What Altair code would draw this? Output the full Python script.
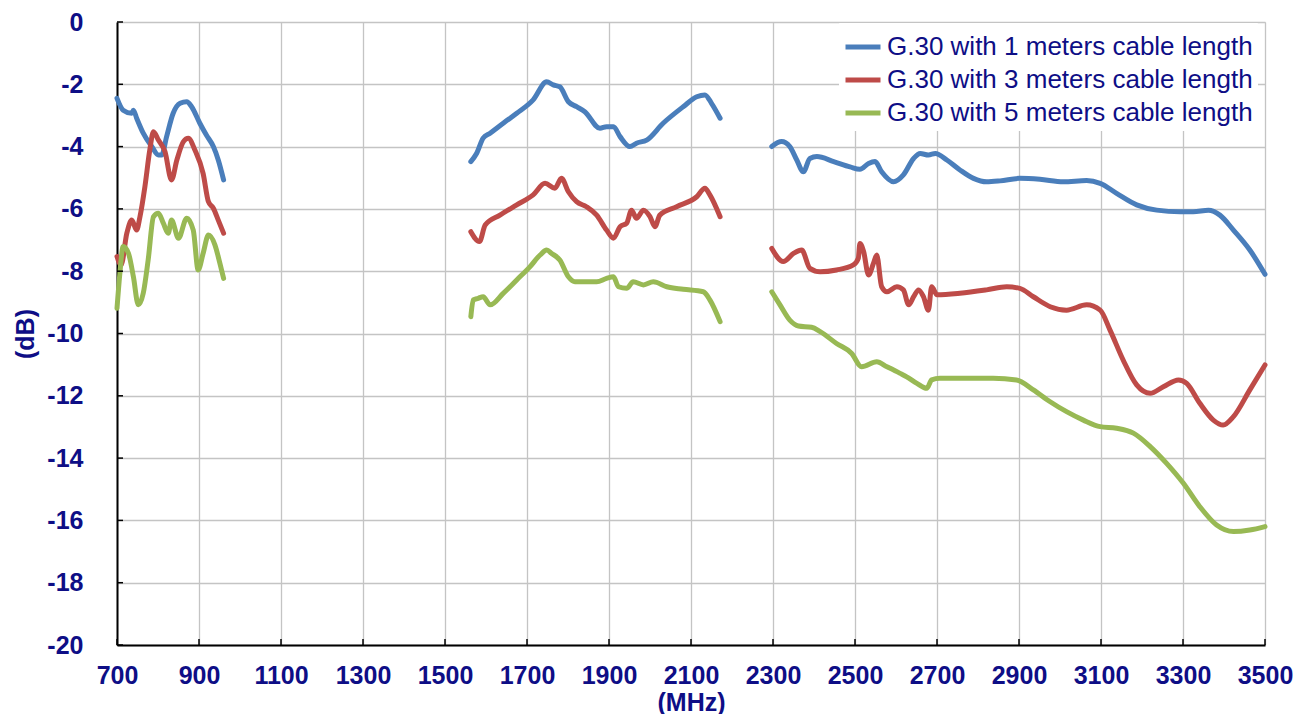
import altair as alt
import pandas as pd

# ---- data (MHz, dB) ----
series_names = [
    "G.30 with 1 meters cable length",
    "G.30 with 3 meters cable length",
    "G.30 with 5 meters cable length",
]
series_colors = ["#4A7EBB", "#BE4B48", "#98B954"]

# 1 m cable
blue_b1_f = [700, 715, 736, 740, 748, 764, 785, 801, 809, 821, 837, 854, 870, 882, 902, 918, 935, 947, 960]
blue_b1_d = [-2.45, -2.83, -2.93, -2.83, -3.09, -3.57, -4.0, -4.27, -4.27, -3.68, -2.93, -2.61, -2.56, -2.72, -3.25, -3.63, -4.0, -4.43, -5.07]
blue_b2_f = [1563, 1577, 1593, 1610, 1642, 1675, 1715, 1748, 1764, 1780, 1801, 1821, 1841, 1878, 1894, 1911, 1927, 1951, 1967, 1992, 2032, 2081, 2114, 2134, 2150, 2171]
blue_b2_d = [-4.48, -4.22, -3.73, -3.57, -3.25, -2.93, -2.50, -1.92, -2.02, -2.08, -2.56, -2.72, -2.88, -3.41, -3.36, -3.36, -3.68, -4.0, -3.89, -3.79, -3.25, -2.72, -2.40, -2.34, -2.61, -3.09]
blue_b3_f = [2297, 2321, 2341, 2358, 2374, 2390, 2407, 2448, 2488, 2512, 2533, 2549, 2565, 2594, 2618, 2643, 2659, 2679, 2696, 2724, 2756, 2789, 2821, 2854, 2902, 2951, 3008, 3065, 3098, 3138, 3187, 3236, 3293, 3325, 3362, 3390, 3423, 3463, 3500]
blue_b3_d = [-4.0, -3.84, -4.0, -4.43, -4.81, -4.38, -4.32, -4.48, -4.65, -4.73, -4.54, -4.48, -4.81, -5.13, -4.91, -4.38, -4.22, -4.27, -4.22, -4.43, -4.75, -5.02, -5.13, -5.10, -5.02, -5.05, -5.13, -5.09, -5.18, -5.50, -5.87, -6.04, -6.09, -6.09, -6.04, -6.20, -6.68, -7.32, -8.10]

# 3 m cable
red_b1_f = [700, 710, 724, 736, 748, 756, 768, 780, 789, 801, 817, 833, 846, 862, 874, 890, 910, 923, 935, 947, 960]
red_b1_d = [-7.53, -7.8, -6.78, -6.36, -6.68, -6.25, -5.29, -4.11, -3.52, -3.79, -4.16, -5.07, -4.43, -3.84, -3.73, -4.11, -4.86, -5.77, -5.98, -6.36, -6.78]
red_b2_f = [1563, 1584, 1598, 1634, 1675, 1715, 1744, 1768, 1784, 1801, 1821, 1845, 1870, 1894, 1911, 1927, 1943, 1955, 1967, 1984, 2000, 2012, 2024, 2065, 2114, 2134, 2146, 2171]
red_b2_d = [-6.73, -7.05, -6.52, -6.20, -5.87, -5.55, -5.18, -5.34, -5.02, -5.45, -5.77, -5.93, -6.20, -6.68, -6.94, -6.57, -6.46, -6.04, -6.30, -6.04, -6.25, -6.57, -6.20, -5.93, -5.61, -5.34, -5.55, -6.25]
red_b3_f = [2297, 2325, 2350, 2370, 2390, 2415, 2455, 2496, 2508, 2512, 2521, 2533, 2545, 2553, 2565, 2578, 2602, 2618, 2631, 2643, 2655, 2667, 2679, 2687, 2700, 2756, 2821, 2870, 2902, 2935, 2976, 3016, 3065, 3098, 3122, 3154, 3187, 3220, 3252, 3289, 3309, 3341, 3374, 3398, 3423, 3463, 3500]
red_b3_d = [-7.27, -7.69, -7.43, -7.32, -7.91, -8.02, -7.96, -7.80, -7.59, -7.11, -7.37, -8.12, -7.75, -7.48, -8.50, -8.66, -8.50, -8.60, -9.08, -8.82, -8.60, -8.82, -9.25, -8.50, -8.76, -8.71, -8.60, -8.50, -8.55, -8.82, -9.14, -9.25, -9.08, -9.25, -9.89, -10.85, -11.65, -11.92, -11.71, -11.49, -11.60, -12.24, -12.78, -12.94, -12.67, -11.81, -11.01]

# 5 m cable
green_b1_f = [700, 707, 715, 728, 740, 752, 764, 776, 789, 801, 813, 825, 833, 850, 870, 886, 898, 910, 923, 939, 951, 960]
green_b1_d = [-9.19, -8.07, -7.21, -7.43, -8.18, -9.08, -8.71, -7.64, -6.25, -6.14, -6.46, -6.78, -6.36, -6.94, -6.30, -6.68, -7.96, -7.43, -6.84, -7.16, -7.75, -8.23]
green_b2_f = [1563, 1569, 1581, 1593, 1610, 1642, 1675, 1707, 1732, 1748, 1760, 1780, 1801, 1817, 1845, 1870, 1894, 1911, 1923, 1943, 1959, 1984, 2008, 2041, 2081, 2130, 2146, 2171]
green_b2_d = [-9.46, -8.92, -8.87, -8.82, -9.08, -8.71, -8.28, -7.86, -7.48, -7.32, -7.43, -7.64, -8.18, -8.34, -8.34, -8.34, -8.23, -8.18, -8.50, -8.55, -8.34, -8.44, -8.34, -8.50, -8.58, -8.66, -8.92, -9.62]
green_b3_f = [2297, 2317, 2341, 2362, 2394, 2415, 2455, 2492, 2516, 2553, 2578, 2610, 2626, 2651, 2675, 2687, 2707, 2756, 2837, 2894, 2935, 2976, 3016, 3057, 3098, 3138, 3179, 3220, 3260, 3301, 3341, 3382, 3423, 3463, 3500]
green_b3_d = [-8.66, -9.08, -9.57, -9.76, -9.80, -9.94, -10.32, -10.64, -11.07, -10.91, -11.07, -11.28, -11.39, -11.60, -11.76, -11.49, -11.44, -11.44, -11.44, -11.49, -11.81, -12.19, -12.51, -12.78, -12.99, -13.04, -13.20, -13.63, -14.17, -14.81, -15.56, -16.15, -16.36, -16.31, -16.20]

x_ticks = list(range(700, 3501, 200))
y_grid = list(range(-20, 1, 1))
y_ticks = list(range(-20, 1, 2))

# ---- build table ----
segments = [
    (series_names[0], "b1", blue_b1_f, blue_b1_d),
    (series_names[0], "b2", blue_b2_f, blue_b2_d),
    (series_names[0], "b3", blue_b3_f, blue_b3_d),
    (series_names[1], "b1", red_b1_f, red_b1_d),
    (series_names[1], "b2", red_b2_f, red_b2_d),
    (series_names[1], "b3", red_b3_f, red_b3_d),
    (series_names[2], "b1", green_b1_f, green_b1_d),
    (series_names[2], "b2", green_b2_f, green_b2_d),
    (series_names[2], "b3", green_b3_f, green_b3_d),
]
rows = []
for name, band, fs, ds in segments:
    for f, d in zip(fs, ds):
        rows.append({"freq": f, "db": d, "series": name, "seg": name + band})
df = pd.DataFrame(rows)

NAVY = "#0E0E86"
FONT = "Liberation Sans"
W, H = 1148, 623

xscale = alt.Scale(domain=[700, 3500], nice=False, zero=False)
yscale = alt.Scale(domain=[-20, 0], nice=False, zero=False)

x_axis = alt.Axis(
    values=x_ticks, title="(MHz)", grid=True, gridColor="#C4C4C4", gridWidth=1.3,
    ticks=False, domainColor="#000000", domainWidth=2,
    labelExpr="toString(datum.value)",
    labelFont=FONT, labelFontSize=25, labelFontWeight="bold", labelColor=NAVY,
    labelPadding=18, labelFlush=False, labelOverlap=False,
    titleFont=FONT, titleFontSize=25, titleFontWeight="bold", titleColor=NAVY, titlePadding=2,
)
y_axis = alt.Axis(
    values=y_grid, title="(dB)", grid=True, gridColor="#C4C4C4", gridWidth=1.3,
    ticks=False, domainColor="#000000", domainWidth=2,
    labelExpr="datum.value % 2 == 0 ? toString(datum.value) : ''",
    labelFont=FONT, labelFontSize=25, labelFontWeight="bold", labelColor=NAVY,
    labelPadding=34, labelOverlap=False,
    titleFont=FONT, titleFontSize=25, titleFontWeight="bold", titleColor=NAVY, titlePadding=8,
)

lines = alt.Chart(df).mark_line(strokeWidth=5, interpolate="monotone", strokeCap="round", strokeJoin="round").encode(
    x=alt.X("freq:Q", scale=xscale, axis=x_axis),
    y=alt.Y("db:Q", scale=yscale, axis=y_axis),
    color=alt.Color(
        "series:N",
        scale=alt.Scale(domain=series_names, range=series_colors),
        legend=alt.Legend(
            title=None, orient="none", legendX=722, legendY=1,
            fillColor="white", strokeColor="white", padding=4, rowPadding=-1.5,
            symbolType="stroke", symbolStrokeWidth=5, symbolSize=1225,
            labelFont=FONT, labelFontSize=26, labelColor=NAVY, labelOffset=4,
            labelLimit=600,
        ),
    ),
    detail="seg:N",
)

xt = alt.Chart(pd.DataFrame({"t": x_ticks})).mark_rule(color="black", strokeWidth=1.5).encode(
    x=alt.X("t:Q", scale=xscale), y=alt.value(H), y2=alt.value(H - 6)
)
yt = alt.Chart(pd.DataFrame({"t": y_ticks})).mark_rule(color="black", strokeWidth=1.5).encode(
    y=alt.Y("t:Q", scale=yscale), x=alt.value(0), x2=alt.value(6)
)

chart = alt.layer(lines, xt, yt).properties(
    width=W, height=H,
    autosize=alt.AutoSizeParams(type="none"),
    padding={"left": 109, "top": 14, "right": 29, "bottom": 69},
).configure_view(stroke="#BDBDBD", strokeWidth=1.3).configure(background="white")

chart.save("out.html", embed_options={"renderer": "svg", "actions": False})
